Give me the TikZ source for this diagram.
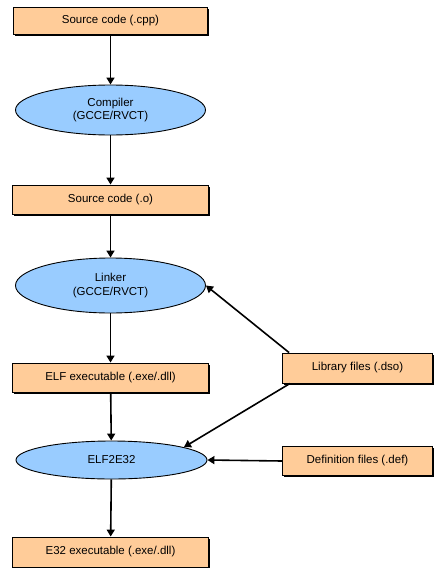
\documentclass[tikz,border=0pt]{standalone}
\usepackage{fontspec}
\setmainfont{Liberation Sans}
\usetikzlibrary{shapes.geometric,arrows.meta,shadows}
\definecolor{peach}{HTML}{FFCC99}
\definecolor{skyb}{HTML}{99CCFF}
\begin{document}
\begin{tikzpicture}[x=1pt,y=-1pt,
  filebox/.style={rectangle,draw=black,line width=0.9pt,fill=peach,minimum height=29pt,inner sep=0pt,
    drop shadow={shadow xshift=1.6pt,shadow yshift=-1.6pt,fill=black,opacity=1},
    font=\fontsize{11.5}{13.5}\selectfont,align=center},
  tool/.style={ellipse,draw=black,line width=0.9pt,fill=skyb,minimum width=190pt,inner sep=0pt,
    font=\fontsize{11.5}{13.5}\selectfont,align=center},
  flow/.style={line width=1.6pt,-{Triangle[width=8pt,length=7pt]}}]
\useasboundingbox (0,0) rectangle (434,568);
\node[filebox,minimum width=194pt,minimum height=27pt] (src) at (110.5,20.5) {Source code (.cpp)};
\node[tool,minimum height=50pt] (comp) at (110.5,110) {Compiler\\(GCCE/RVCT)};
\node[filebox,minimum width=196pt] (obj) at (110.5,199.5) {Source code (.o)};
\node[tool,minimum height=55pt] (link) at (110.5,285.5) {Linker\\(GCCE/RVCT)};
\node[filebox,minimum width=196pt] (elfexe) at (110.5,377.5) {ELF executable (.exe/.dll)};
\node[tool,minimum width=191pt,minimum height=38pt] (conv) at (111.5,460) {ELF2E32};
\node[filebox,minimum width=196pt,minimum height=30pt] (e32) at (110.5,552) {E32 executable (.exe/.dll)};
\node[filebox,minimum width=150pt,minimum height=30pt] (lib) at (357.5,368) {Library files (.dso)};
\node[filebox,minimum width=150pt] (def) at (357.5,461) {Definition files (.def)};
\draw[flow] (src) -- (comp);
\draw[flow] (comp) -- (obj);
\draw[flow] (obj) -- (link);
\draw[flow] (link) -- (elfexe);
\draw[flow] (elfexe) -- (conv);
\draw[flow] (conv) -- (e32);
\draw[flow] ([xshift=7pt]lib.north west) -- (link.east);
\draw[flow] ([xshift=8pt]lib.south west) -- (conv.10);
\draw[flow] (def.west) -- (conv.east);
\end{tikzpicture}
\end{document}
